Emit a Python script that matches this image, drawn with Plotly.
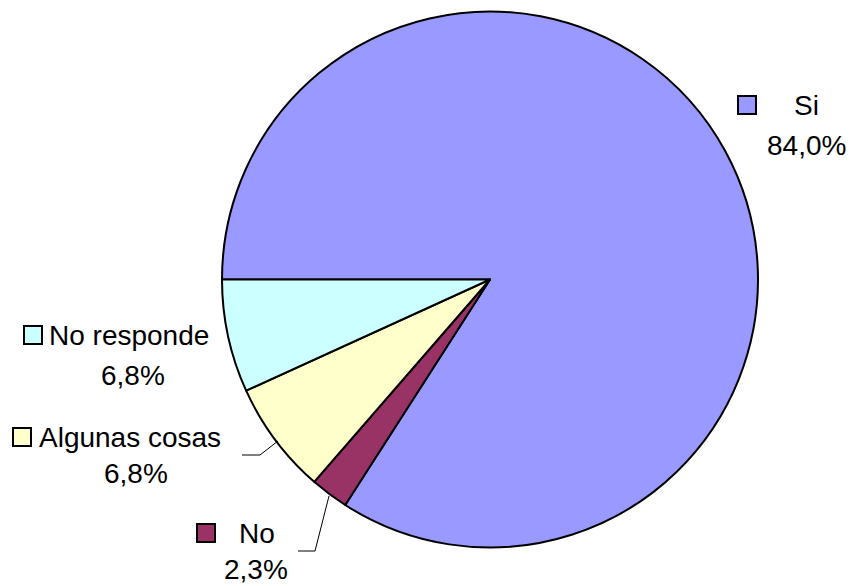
import plotly.graph_objects as go

labels = ["Si", "No", "Algunas cosas", "No responde"]
values = [84.0, 2.3, 6.8, 6.8]
value_text = ["84,0%", "2,3%", "6,8%", "6,8%"]
colors = ["#9999FF", "#993366", "#FFFFCC", "#CCFFFF"]

W, H = 850, 586
def px(x): return x / W
def py(y): return 1 - y / H

fig = go.Figure(go.Pie(
    labels=labels, values=values, sort=False, direction="clockwise",
    rotation=270, textinfo="none", hoverinfo="label+percent",
    marker=dict(colors=colors, line=dict(color="black", width=2)),
    domain=dict(x=[222 / W, 758 / W], y=[1 - 548 / H, 1 - 11 / H]),
    showlegend=False,
))

font = dict(family="Liberation Sans, Arial, sans-serif", size=28, color="black")

# label layout: (square center x, y), name anchor x, name xanchor, value center x, value y
layout_info = {
    "Si": ((747, 105), 806, "center", 806, 145),
    "No": ((206, 533), 257, "center", 256, 569),
    "Algunas cosas": ((22, 437), 37, "left", 136, 473),
    "No responde": ((33, 335), 47, "left", 133, 375),
}

annotations = []
shapes = []
for lab, vt, col in zip(labels, value_text, colors):
    (sx, sy), nx, nanchor, vx, vy = layout_info[lab]
    annotations.append(dict(x=px(nx), y=py(sy), xref="paper", yref="paper",
                            text=lab, showarrow=False, xanchor=nanchor,
                            yanchor="middle", font=font))
    annotations.append(dict(x=px(vx), y=py(vy), xref="paper", yref="paper",
                            text=vt, showarrow=False, xanchor="center",
                            yanchor="middle", font=font))
    shapes.append(dict(type="rect", xref="paper", yref="paper",
                       x0=px(sx - 9), x1=px(sx + 9), y0=py(sy - 9), y1=py(sy + 9),
                       fillcolor=col, line=dict(color="black", width=2)))

# leader lines
shapes.append(dict(type="path", xref="paper", yref="paper",
                   path=f"M {px(242)},{py(455)} L {px(260)},{py(455)} L {px(278)},{py(441)}",
                   line=dict(color="black", width=1)))
shapes.append(dict(type="path", xref="paper", yref="paper",
                   path=f"M {px(298)},{py(551)} L {px(315)},{py(551)} L {px(329)},{py(496)}",
                   line=dict(color="black", width=1)))

fig.update_layout(width=W, height=H, margin=dict(l=0, r=0, t=0, b=0),
                  paper_bgcolor="white", plot_bgcolor="white",
                  annotations=annotations, shapes=shapes)
fig.write_html("out.html", config={"displayModeBar": False},
               post_script="document.body.style.margin='0';document.body.style.overflow='hidden';")
